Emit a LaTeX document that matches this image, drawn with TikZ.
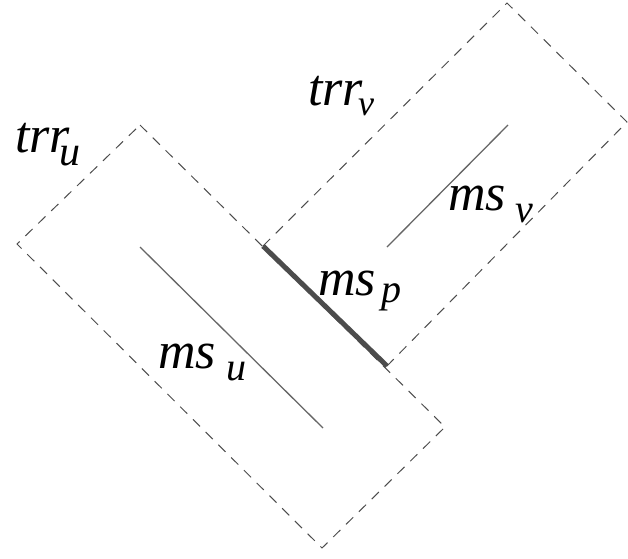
\documentclass[tikz,border=0pt]{standalone}
\usepackage{fontspec}
\setmainfont{Liberation Serif}
\newcommand{\mainsz}{\fontsize{52}{52}\selectfont}
\newcommand{\lbl}[5]{\mainsz\textit{#1}\kern#3pt\raisebox{-#4pt}{\fontsize{#5}{#5}\selectfont\textit{#2}}}
\begin{document}
\begin{tikzpicture}[x=1pt,y=-1pt,
  region/.style={draw=black!70,line width=1pt,dash pattern=on 10pt off 8pt},
  seg/.style={draw=black!60,line width=1.3pt},
  sharedseg/.style={draw=black!70,line width=5pt},
  lab/.style={anchor=base west,inner sep=0pt,outer sep=0pt}]
\useasboundingbox (0,0) rectangle (628,558);
% trr_u corners
\coordinate (ut) at (140,125);
\coordinate (ur) at (445,427);
\coordinate (ub) at (322,548);
\coordinate (ul) at (17,244);
% trr_v corners
\coordinate (vl) at (263,246);
\coordinate (vt) at (507,3);
\coordinate (vr) at (627,122);
\coordinate (vb) at (387,366);
\draw[region] (ut) -- (ur) -- (ub) -- (ul) -- cycle;
\draw[region] (vl) -- (vt) -- (vr) -- (vb);
% segments
\coordinate (mua) at (140,247);
\coordinate (mub) at (323,428);
\coordinate (mva) at (387,247);
\coordinate (mvb) at (508,125);
\draw[seg] (mua) -- (mub);
\draw[seg] (mva) -- (mvb);
\draw[sharedseg] (vl) -- (vb);
% labels
\node[lab] (ltu) at (15,152) {\lbl{trr}{u}{-11}{13}{42}};
\node[lab] (ltv) at (308,105) {\lbl{trr}{v}{-5}{10}{36}};
\node[lab] (lmv) at (448,210) {\lbl{ms}{v}{10}{12}{40}};
\node[lab] (lmp) at (318,295) {\lbl{ms}{p}{6}{7}{40}};
\node[lab] (lmu) at (158,368) {\lbl{ms}{u}{11}{12}{40}};
\end{tikzpicture}
\end{document}
